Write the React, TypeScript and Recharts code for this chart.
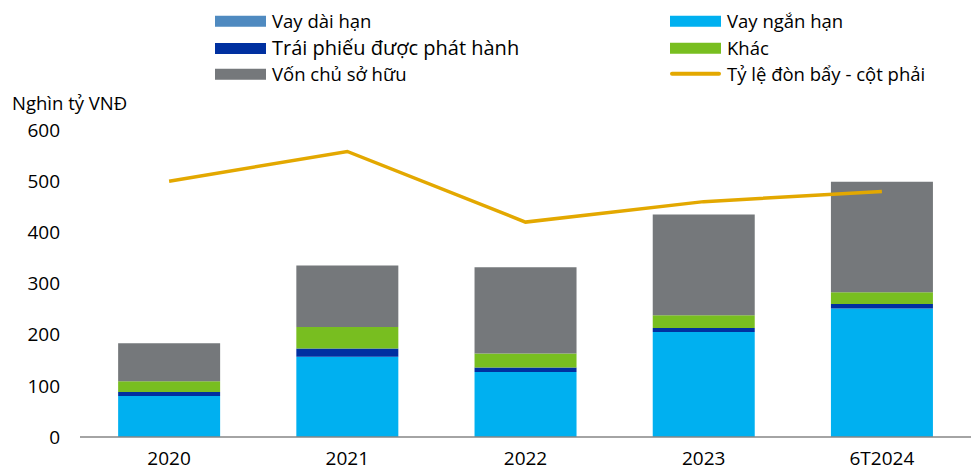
import {
  ComposedChart,
  Bar,
  Line,
  XAxis,
  YAxis,
} from "recharts";

const categories = ["2020", "2021", "2022", "2023", "6T2024"];
const vayDaiHan = [0, 0, 0, 0, 0];
const vayNganHan = [80, 157, 127, 205, 251];
const traiPhieu = [8, 16, 9, 8, 9];
const khac = [21, 42, 27, 25, 23];
const vonChuSoHuu = [74, 120, 169, 197, 216];
const tyLeDonBay = [2.5, 2.79, 2.1, 2.3, 2.4];
const leftTicks = [0, 100, 200, 300, 400, 500, 600];

const data = categories.map((name, i) => ({
  name,
  vayDaiHan: vayDaiHan[i],
  vayNganHan: vayNganHan[i],
  traiPhieu: traiPhieu[i],
  khac: khac[i],
  vonChuSoHuu: vonChuSoHuu[i],
  tyLeDonBay: tyLeDonBay[i],
}));

const FONT = "'Open Sans', 'Noto Sans', sans-serif";

const colors = {
  vayDaiHan: "#4F8AC0",
  vayNganHan: "#00B0F0",
  traiPhieu: "#0030A0",
  khac: "#78BE20",
  vonChuSoHuu: "#75787B",
  line: "#E3A800",
};

type LegendItem = {
  label: string;
  color: string;
  x: number;
  y: number;
  size: number;
  line?: boolean;
};

const legendItems: LegendItem[] = [
  { label: "Vay dài hạn", color: colors.vayDaiHan, x: 215, y: 21, size: 18.5 },
  { label: "Trái phiếu được phát hành", color: colors.traiPhieu, x: 215, y: 48, size: 20 },
  { label: "Vốn chủ sở hữu", color: colors.vonChuSoHuu, x: 215, y: 74, size: 18.5 },
  { label: "Vay ngắn hạn", color: colors.vayNganHan, x: 670, y: 21, size: 18.5 },
  { label: "Khác", color: colors.khac, x: 670, y: 48, size: 18.5 },
  { label: "Tỷ lệ đòn bẩy - cột phải", color: colors.line, x: 670, y: 74, size: 18.5, line: true },
];

function ChartLegend() {
  return (
    <>
      {legendItems.map((item) => (
        <div
          key={item.label}
          style={{
            position: "absolute",
            left: item.x,
            top: item.y,
            transform: "translateY(-50%)",
            display: "flex",
            alignItems: "center",
            whiteSpace: "nowrap",
          }}
        >
          <span
            style={{
              display: "inline-block",
              width: 51,
              height: item.line ? 4 : 11,
              borderRadius: item.line ? 2 : 0,
              background: item.color,
              marginRight: 6,
            }}
          />
          <span style={{ fontSize: item.size, color: "#000", lineHeight: 1 }}>
            {item.label}
          </span>
        </div>
      ))}
    </>
  );
}

export default function App() {
  return (
    <div
      style={{
        position: "absolute",
        left: 0,
        top: 0,
        width: 971,
        height: 472,
        fontFamily: FONT,
        background: "#fff",
      }}
    >
      <ChartLegend />
      <div
        style={{
          position: "absolute",
          left: 12,
          top: 102,
          transform: "translateY(-50%)",
          fontSize: 18.5,
          color: "#000",
          whiteSpace: "nowrap",
        }}
      >
        Nghìn tỷ VNĐ
      </div>
      <ComposedChart
        width={971}
        height={472}
        data={data}
        margin={{ top: 130, right: 0, bottom: 0, left: 0 }}
        barCategoryGap="21.4%"
        style={{ fontFamily: FONT }}
      >
        <XAxis
          dataKey="name"
          axisLine={{ stroke: "#868686", strokeWidth: 1.5 }}
          tickLine={false}
          tickSize={0}
          tickMargin={15}
          tick={{ fontSize: 19, fill: "#000" }}
          height={35}
        />
        <YAxis
          yAxisId="left"
          domain={[0, 600]}
          ticks={leftTicks}
          axisLine={false}
          tickLine={false}
          tickSize={0}
          tickMargin={20}
          width={80}
          tick={{ fontSize: 19, fill: "#000" }}
        />
        <YAxis yAxisId="right" orientation="right" domain={[0, 3]} hide />
        <Bar yAxisId="left" dataKey="vayDaiHan" stackId="a" fill={colors.vayDaiHan} isAnimationActive={false} />
        <Bar yAxisId="left" dataKey="vayNganHan" stackId="a" fill={colors.vayNganHan} isAnimationActive={false} />
        <Bar yAxisId="left" dataKey="traiPhieu" stackId="a" fill={colors.traiPhieu} isAnimationActive={false} />
        <Bar yAxisId="left" dataKey="khac" stackId="a" fill={colors.khac} isAnimationActive={false} />
        <Bar yAxisId="left" dataKey="vonChuSoHuu" stackId="a" fill={colors.vonChuSoHuu} isAnimationActive={false} />
        <Line
          yAxisId="right"
          type="linear"
          dataKey="tyLeDonBay"
          stroke={colors.line}
          strokeWidth={3.5}
          dot={false}
          activeDot={false}
          isAnimationActive={false}
        />
      </ComposedChart>
    </div>
  );
}
